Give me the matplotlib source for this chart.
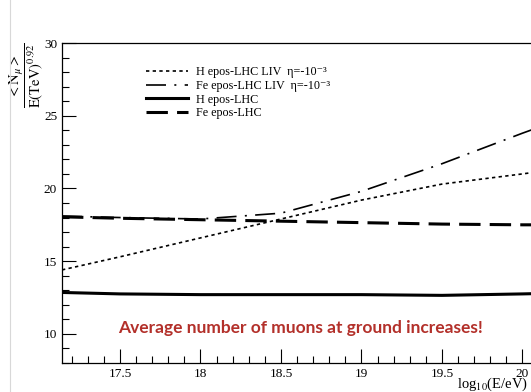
import numpy as np
import matplotlib.pyplot as plt
from matplotlib.lines import Line2D
from matplotlib.ticker import MultipleLocator

plt.rcParams['font.family'] = ['Liberation Serif', 'DejaVu Serif']
plt.rcParams['mathtext.fontset'] = 'stix'

# log10(E/eV) sampling points
log_e = [17.14, 17.5, 18.0, 18.5, 19.0, 19.5, 20.0, 20.2]

h_liv = [14.4, 15.3, 16.6, 17.9, 19.2, 20.3, 21.0, 21.3]
fe_liv = [18.1, 18.0, 17.9, 18.3, 19.8, 21.7, 23.8, 24.6]
h_lhc = [12.85, 12.75, 12.7, 12.7, 12.7, 12.65, 12.75, 12.8]
fe_lhc = [18.05, 17.95, 17.85, 17.75, 17.65, 17.55, 17.5, 17.5]

labels = ['H epos-LHC LIV  η=-10⁻³',
          'Fe epos-LHC LIV  η=-10⁻³',
          'H epos-LHC',
          'Fe epos-LHC']

W, H = 531, 392
fig = plt.figure(figsize=(W / 100, H / 100), dpi=100)

x0, x1 = 17.14, 20.2
ppu = 161.0  # pixels per unit on x
left_px, top_px, bot_px = 62, 43, 363
width_px = (x1 - x0) * ppu
ax = fig.add_axes([left_px / W, 1 - bot_px / H, width_px / W, (bot_px - top_px) / H])

ax.plot(log_e, h_liv, color='black', lw=1.2, ls=(0, (2, 2)), label=labels[0])
ax.plot(log_e, fe_liv, color='black', lw=1.2, ls=(0, (12, 5, 1.2, 5)), label=labels[1])
ax.plot(log_e, h_lhc, color='black', lw=2.2, label=labels[2])
ax.plot(log_e, fe_lhc, color='black', lw=2.2, ls=(0, (7, 3)), label=labels[3])

ax.set_xlim(x0, x1)
ax.set_ylim(8, 30)
ax.xaxis.set_major_locator(MultipleLocator(0.5))
ax.xaxis.set_minor_locator(MultipleLocator(0.1))
ax.yaxis.set_major_locator(MultipleLocator(5))
ax.yaxis.set_minor_locator(MultipleLocator(1))
ax.set_xticks([17.5, 18, 18.5, 19, 19.5, 20])
ax.set_xticklabels(['17.5', '18', '18.5', '19', '19.5', '20'])
ax.tick_params(which='both', direction='in', top=False, right=False,
               labelsize=9.5, width=0.8)
ax.tick_params(which='major', length=10)
ax.tick_params(which='minor', length=5)
for s in ax.spines.values():
    s.set_linewidth(0.9)

ax.set_ylabel(r'$\dfrac{{<}\mathrm{N}_{\mu}{>}}{\mathrm{E(TeV)}^{0.92}}$',
              fontsize=10.5)
ax.yaxis.set_label_coords(-0.034, 0.9)

ax.legend(loc='upper left', bbox_to_anchor=(0.148, 0.962), frameon=False,
          fontsize=8.7, handlelength=3.5, labelspacing=0.15, handletextpad=0.65)

ax.text(18.62, 10.4, 'Average number of muons at ground increases!',
        color='#b3302a', fontsize=12.5, fontweight='bold',
        family=['Lato', 'DejaVu Sans'], ha='center', va='center')

fig.text(457 / W, 1 - 384 / H, r'log$_{10}$(E/eV)', ha='left', va='center',
         fontsize=10.5)

# slide edge on the left
fig.add_artist(Line2D([10 / W, 10 / W], [0, 1], color='#d8d8d8', lw=0.8))

fig.savefig('out.png', dpi=100)
